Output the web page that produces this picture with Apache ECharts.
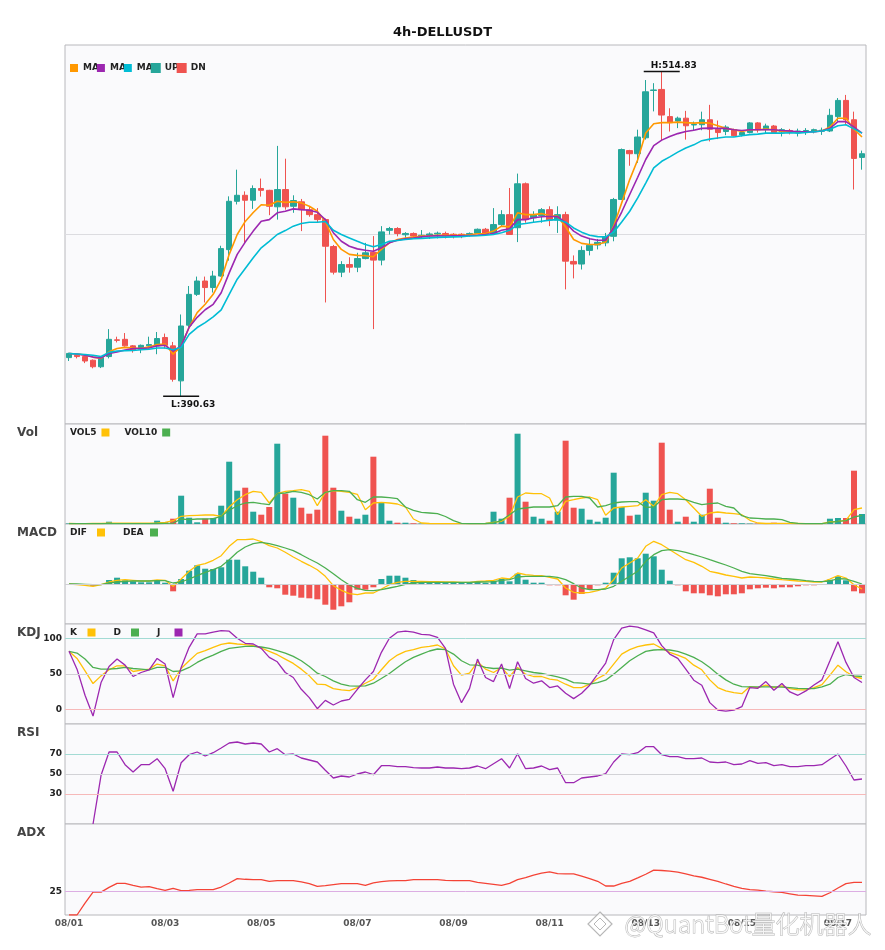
<!DOCTYPE html>
<html>
<head>
<meta charset="utf-8">
<title>4h-DELLUSDT</title>
<script src="https://cdn.jsdelivr.net/npm/echarts/dist/echarts.min.js"></script>
<style>
html, body { margin: 0; padding: 0; background: #fff; }
#app { width: 885px; height: 950px; }
</style>
</head>
<body>
<div id="app"></div>
<script>
var days = ['08/01', '08/02', '08/03', '08/04', '08/05', '08/06', '08/07', '08/08', '08/09',
    '08/10', '08/11', '08/12', '08/13', '08/14', '08/15', '08/16', '08/17'];
var hours = ['00:00', '04:00', '08:00', '12:00', '16:00', '20:00'];

var opens = [
    405.4, 406.3, 405.8, 404.4, 401.9, 405.8, 412.2, 412.4, 409.9, 408.6,
    409.9, 409.9, 413.1, 409.9, 396.5, 417.8, 429.6, 434.7, 432.2, 436.6,
    446.7, 465.2, 467.5, 465.6, 470.1, 469.4, 463.1, 469.7, 463.3, 465.0,
    462.0, 460.1, 458.2, 447.9, 438.1, 441.0, 440.0, 443.3, 445.7, 442.7,
    454.1, 454.8, 452.4, 452.9, 451.9, 452.2, 452.7, 452.9, 452.6, 452.6,
    452.2, 453.0, 454.5, 452.9, 456.3, 460.1, 455.1, 471.9, 458.9, 459.7,
    462.0, 458.0, 460.1, 442.2, 441.2, 446.4, 448.5, 449.3, 451.8, 465.9,
    484.6, 483.4, 489.5, 507.6, 508.0, 497.6, 495.9, 497.0, 494.4, 494.5,
    496.4, 492.8, 491.9, 492.6, 490.6, 491.5, 495.2, 492.8, 494.0, 491.8,
    492.3, 491.5, 492.0, 491.8, 492.0, 492.1, 497.6, 503.8, 496.4, 482.0
];
var closes = [
    407.0, 405.8, 404.1, 401.9, 405.4, 412.4, 412.0, 409.9, 408.3, 410.1,
    410.4, 412.7, 410.1, 397.1, 417.5, 429.6, 434.7, 432.2, 436.6, 447.1,
    465.2, 467.5, 465.6, 470.1, 469.4, 463.3, 469.7, 463.1, 465.5, 462.0,
    460.1, 458.2, 448.0, 438.1, 441.0, 440.0, 443.3, 445.5, 442.7, 453.5,
    454.8, 452.9, 452.9, 451.9, 452.2, 452.7, 453.0, 452.2, 452.1, 452.2,
    452.9, 454.5, 452.9, 456.3, 460.1, 452.5, 471.9, 458.2, 460.1, 462.0,
    458.0, 460.1, 442.3, 441.2, 446.4, 448.4, 449.5, 451.6, 465.9, 485.0,
    483.4, 489.8, 507.1, 507.8, 498.2, 495.3, 497.0, 494.1, 494.6, 496.4,
    492.8, 491.5, 493.6, 490.3, 491.5, 495.2, 492.6, 494.0, 491.5, 492.6,
    491.9, 492.1, 492.3, 492.6, 492.4, 498.1, 503.8, 496.4, 481.6, 483.4
];
var lows = [
    404.1, 405.1, 403.3, 401.3, 401.4, 405.1, 411.2, 409.6, 407.3, 407.1,
    408.9, 406.7, 408.9, 396.2, 390.63, 417.0, 429.0, 426.5, 430.3, 436.4,
    442.5, 464.0, 449.3, 462.3, 467.0, 459.9, 458.2, 462.0, 460.8, 453.8,
    459.3, 457.0, 426.5, 437.2, 436.2, 437.9, 438.1, 443.0, 416.3, 440.7,
    452.5, 451.8, 450.7, 451.1, 451.0, 450.8, 451.0, 451.0, 451.0, 451.1,
    451.7, 452.8, 452.6, 452.3, 455.7, 452.5, 449.6, 457.0, 457.0, 457.0,
    455.7, 453.1, 431.5, 435.7, 439.1, 444.5, 446.8, 448.0, 449.9, 465.7,
    478.8, 479.9, 488.8, 499.6, 488.5, 491.9, 493.2, 488.8, 492.4, 492.4,
    488.1, 489.0, 490.5, 490.0, 490.0, 491.2, 491.5, 491.2, 491.0, 490.0,
    490.8, 490.0, 490.6, 491.2, 490.6, 491.7, 495.9, 494.5, 469.7, 477.3
];
var highs = [
    407.3, 406.6, 406.0, 404.7, 406.0, 416.3, 413.4, 414.8, 410.2, 410.4,
    413.4, 415.2, 414.6, 411.4, 421.9, 432.8, 436.4, 436.4, 438.6, 448.2,
    467.1, 477.3, 469.0, 471.3, 473.9, 469.6, 486.4, 481.5, 467.5, 466.1,
    463.3, 462.6, 458.6, 448.5, 442.3, 443.8, 445.5, 449.3, 451.9, 455.7,
    455.4, 455.3, 453.4, 453.3, 454.2, 453.3, 453.6, 453.6, 453.0, 453.0,
    453.3, 454.8, 455.0, 462.6, 461.8, 470.3, 475.8, 472.4, 461.4, 462.6,
    463.3, 463.3, 461.2, 444.5, 448.0, 451.2, 450.8, 453.1, 466.5, 485.4,
    484.9, 492.6, 511.6, 510.4, 514.83, 500.8, 497.6, 499.8, 495.7, 499.5,
    502.1, 496.1, 494.3, 493.0, 492.1, 495.5, 495.5, 494.9, 494.4, 493.2,
    492.9, 493.0, 493.2, 493.0, 493.4, 500.6, 504.7, 505.9, 499.5, 484.6
];

var ma5 = [
    407.0, 406.8, 406.4, 405.6, 405.1, 407.6, 408.9, 409.3, 409.1, 408.9,
    409.5, 410.4, 410.6, 406.7, 409.8, 417.0, 422.6, 425.8, 429.6, 435.3,
    444.9, 452.5, 457.5, 460.9, 463.9, 463.7, 465.2, 464.8, 465.0, 464.6,
    463.3, 461.4, 457.5, 450.6, 446.8, 444.9, 444.5, 444.4, 444.0, 446.8,
    449.3, 450.6, 451.1, 451.5, 451.9, 452.0, 452.2, 452.2, 452.2, 452.2,
    452.4, 452.8, 452.9, 453.8, 455.7, 455.4, 460.8, 460.1, 460.1, 460.5,
    459.7, 459.5, 455.4, 450.6, 449.1, 448.7, 448.7, 449.6, 455.7, 464.6,
    473.5, 481.1, 491.3, 494.9, 495.3, 495.3, 495.5, 495.3, 495.1, 495.3,
    495.1, 494.1, 493.1, 492.6, 491.9, 492.6, 492.6, 492.8, 492.6, 491.9,
    491.8, 491.7, 491.8, 491.9, 492.1, 493.6, 497.0, 497.0, 492.8, 489.8
];
var ma10 = [
    407.0, 406.8, 406.3, 405.6, 405.3, 407.0, 407.6, 408.3, 408.9, 408.9,
    409.1, 409.9, 410.1, 407.9, 409.9, 417.0, 420.8, 423.7, 425.8, 430.2,
    437.8, 444.9, 449.6, 453.8, 457.6, 458.2, 460.8, 461.4, 462.3, 462.0,
    461.8, 461.0, 458.2, 453.2, 449.9, 448.0, 447.0, 446.5, 446.1, 447.4,
    449.3, 450.3, 450.9, 451.1, 451.6, 451.9, 452.0, 451.9, 452.0, 452.0,
    452.1, 452.2, 452.5, 452.9, 454.1, 454.7, 458.2, 458.2, 458.9, 459.3,
    459.5, 459.3, 457.0, 453.8, 451.9, 450.9, 450.3, 450.3, 455.2, 461.1,
    467.8, 474.4, 481.2, 486.5, 488.6, 490.0, 491.1, 491.9, 492.4, 493.1,
    493.2, 493.1, 493.1, 492.6, 492.3, 492.6, 492.6, 492.6, 492.6, 492.3,
    492.1, 491.8, 491.8, 491.8, 492.1, 493.1, 495.7, 495.7, 493.6, 491.3
];
var ma20 = [
    407.0, 406.8, 406.6, 406.3, 405.8, 407.4, 407.9, 408.0, 408.1, 408.4,
    408.6, 409.1, 409.1, 408.4, 409.4, 414.3, 416.9, 418.8, 421.0, 423.7,
    429.6, 435.4, 439.5, 443.6, 447.4, 449.9, 452.5, 454.0, 455.7, 456.7,
    457.2, 457.2, 457.5, 454.1, 452.5, 451.2, 449.9, 448.7, 447.8, 448.7,
    449.9, 450.2, 450.6, 450.9, 451.0, 451.2, 451.4, 451.5, 451.6, 451.7,
    451.9, 452.0, 452.2, 452.5, 453.2, 454.1, 456.3, 456.7, 457.2, 457.6,
    458.0, 458.2, 457.2, 455.0, 453.4, 452.2, 451.7, 451.6, 453.4, 457.3,
    461.4, 466.5, 472.2, 478.0, 480.5, 482.2, 484.0, 485.6, 486.8, 488.4,
    489.0, 489.4, 489.8, 489.8, 490.3, 490.7, 490.9, 491.3, 491.3, 491.3,
    491.4, 491.3, 491.5, 491.8, 492.1, 492.8, 494.1, 494.5, 492.9, 491.3
];

var vol = [
    0.5, 0.3, 0.5, 0.6, 0.5, 2.3, 0.3, 0.5, 0.4, 0.5,
    1.0, 3.3, 1.7, 5.3, 28.3, 6.3, 1.7, 5.3, 6.0, 18.3,
    62.3, 33.3, 36.3, 12.3, 9.3, 17.0, 80.3, 30.3, 26.3, 16.3,
    10.3, 14.3, 88.3, 36.3, 13.3, 7.3, 5.3, 9.3, 67.3, 21.7,
    3.3, 1.3, 1.3, 0.7, 0.5, 0.4, 0.3, 0.3, 0.3, 0.3,
    0.4, 0.6, 1.0, 12.3, 5.3, 26.3, 90.3, 22.3, 7.3, 5.3,
    3.3, 12.3, 83.3, 16.3, 15.3, 4.3, 2.3, 6.3, 51.3, 17.0,
    8.3, 9.3, 31.3, 23.3, 81.3, 14.3, 2.3, 7.3, 2.3, 9.3,
    35.3, 6.3, 1.3, 0.7, 0.7, 0.4, 0.4, 0.3, 1.3, 0.4,
    0.3, 0.3, 0.3, 0.3, 0.3, 5.3, 6.0, 6.0, 53.3, 10.0
];
var vol5 = [
    0.5, 0.4, 0.4, 0.5, 0.5, 0.8, 0.8, 0.8, 0.8, 0.8,
    0.9, 1.0, 1.7, 3.3, 7.7, 8.3, 8.7, 9.0, 9.0, 7.7,
    17.0, 24.3, 29.3, 32.7, 31.7, 21.0, 30.3, 32.7, 33.3, 34.3,
    32.7, 18.3, 31.7, 33.3, 32.7, 31.7, 29.7, 14.3, 21.0, 21.7,
    21.0, 20.0, 17.0, 5.0, 1.0, 0.5, 0.4, 0.4, 0.3, 0.3,
    0.3, 0.4, 0.5, 1.7, 2.7, 7.7, 27.0, 31.0, 30.3, 30.3,
    26.0, 9.3, 22.7, 24.3, 26.0, 27.0, 24.3, 8.7, 16.0, 17.0,
    17.7, 18.3, 24.3, 17.7, 29.3, 31.7, 30.3, 24.3, 16.0, 7.7,
    11.0, 12.0, 11.0, 10.3, 9.3, 3.7, 1.0, 0.5, 0.7, 0.6,
    0.6, 0.5, 0.4, 0.3, 0.3, 2.0, 2.7, 3.7, 14.3, 16.0
];
var vol10 = [
    0.4, 0.4, 0.4, 0.4, 0.4, 0.4, 0.4, 0.4, 0.4, 0.4,
    0.4, 0.5, 0.6, 0.9, 5.0, 4.3, 5.0, 5.0, 5.3, 7.7,
    13.7, 18.3, 21.0, 21.7, 20.3, 19.3, 30.3, 31.0, 32.7, 31.7,
    29.3, 25.0, 31.7, 33.3, 33.3, 32.7, 24.3, 21.7, 27.0, 27.0,
    26.3, 25.3, 17.0, 13.7, 11.7, 11.0, 10.3, 7.5, 3.3, 0.7,
    0.4, 0.4, 0.5, 1.0, 3.7, 9.3, 15.0, 16.0, 17.0, 17.0,
    17.0, 18.3, 27.0, 27.7, 27.7, 26.0, 17.0, 18.3, 21.0, 22.0,
    22.3, 22.3, 16.7, 17.0, 24.3, 25.0, 25.0, 24.3, 21.7, 19.3,
    20.3, 21.0, 17.7, 16.0, 8.3, 6.0, 5.7, 5.0, 5.0, 4.3,
    1.7, 0.7, 0.4, 0.4, 0.4, 1.7, 2.7, 3.3, 7.0, 8.7
];

var macdHist = [
    0, 0, 0, -0.17, -0.1, 0.4, 0.63, 0.37, 0.27, 0.17,
    0.17, 0.37, 0.13, -0.73, 0.5, 1.33, 1.87, 1.53, 1.5, 1.67,
    2.43, 2.43, 1.77, 1.23, 0.63, -0.33, -0.43, -1.07, -1.17, -1.37,
    -1.43, -1.53, -2.07, -2.57, -2.23, -1.83, -0.57, -0.57, -0.33, 0.5,
    0.83, 0.83, 0.63, 0.4, 0.27, 0.2, 0.2, 0.2, 0.1, 0.1,
    0.1, 0.2, 0.1, 0.3, 0.5, 0.27, 1.03, 0.43, 0.13, 0.13,
    -0.13, -0.13, -1.13, -1.57, -1.0, -0.5, -0.13, 0.13, 1.13, 2.57,
    2.67, 2.57, 3.03, 2.77, 1.43, 0.33, -0.13, -0.73, -0.93, -0.93,
    -1.13, -1.23, -1.03, -1.03, -0.93, -0.53, -0.43, -0.37, -0.43, -0.33,
    -0.33, -0.23, -0.13, -0.13, -0.03, 0.43, 0.77, 0.37, -0.73, -0.93
];
var dif = [
    0, -0.07, -0.13, -0.23, -0.07, 0.2, 0.37, 0.43, 0.37, 0.3,
    0.3, 0.4, 0.37, -0.23, 0.5, 1.27, 1.87, 2.03, 2.37, 2.83,
    3.77, 4.43, 4.43, 4.5, 4.23, 3.83, 3.6, 3.17, 2.7, 2.27,
    1.87, 1.43, 0.77, -0.17, -0.63, -0.97, -1.07, -0.9, -0.9, -0.5,
    -0.07, 0.17, 0.27, 0.27, 0.27, 0.23, 0.23, 0.2, 0.2, 0.17,
    0.17, 0.27, 0.3, 0.37, 0.6, 0.5, 1.1, 0.93, 0.87, 0.83,
    0.67, 0.5, -0.4, -0.83, -0.9, -0.83, -0.67, -0.4, 0.43, 1.6,
    2.1, 2.6, 3.77, 4.27, 3.93, 3.43, 2.93, 2.43, 2.17, 1.77,
    1.27, 1.1, 0.9, 0.77, 0.6, 0.7, 0.67, 0.6, 0.5, 0.43,
    0.37, 0.3, 0.27, 0.2, 0.2, 0.5, 0.83, 0.6, -0.07, -0.5
];
var dea = [
    0, 0, -0.03, -0.07, -0.07, 0.1, 0.2, 0.27, 0.3, 0.3,
    0.3, 0.33, 0.33, 0.1, 0.2, 0.5, 0.83, 1.17, 1.43, 1.77,
    2.43, 3.17, 3.7, 4.03, 4.17, 4.03, 3.83, 3.6, 3.33, 2.93,
    2.5, 2.1, 1.6, 1.03, 0.43, -0.1, -0.43, -0.63, -0.67, -0.57,
    -0.4, -0.23, -0.03, 0.1, 0.17, 0.17, 0.17, 0.17, 0.17, 0.17,
    0.17, 0.2, 0.2, 0.23, 0.37, 0.43, 0.7, 0.77, 0.77, 0.77,
    0.77, 0.67, 0.43, 0.03, -0.4, -0.57, -0.57, -0.5, -0.23, 0.27,
    0.77, 1.27, 2.27, 2.93, 3.33, 3.43, 3.33, 3.17, 2.93, 2.7,
    2.43, 2.17, 1.9, 1.6, 1.27, 1.03, 0.93, 0.83, 0.7, 0.57,
    0.5, 0.43, 0.33, 0.27, 0.23, 0.3, 0.53, 0.5, 0.27, 0
];

var kLine = [
    81.7, 71.8, 54.5, 36.6, 47.4, 55.9, 61.5, 61.5, 53.5, 55.4,
    56.8, 63.9, 61.5, 40.4, 57.7, 68.5, 78.9, 82.6, 87.3, 91.6,
    93.4, 92.0, 91.1, 89.7, 86.4, 81.7, 77.0, 70.9, 64.8, 56.8,
    47.4, 35.7, 35.2, 29.6, 27.7, 26.8, 31.0, 37.1, 42.7, 55.9,
    68.5, 76.5, 81.7, 84.1, 87.3, 88.7, 90.6, 85.0, 61.5, 48.4,
    51.2, 67.1, 56.8, 52.1, 59.2, 46.5, 59.2, 49.8, 46.5, 46.5,
    42.7, 41.3, 35.7, 31.0, 31.0, 35.7, 43.7, 49.8, 63.9, 77.9,
    84.1, 88.3, 90.6, 92.0, 85.9, 80.3, 76.5, 71.8, 62.4, 55.9,
    41.8, 31.0, 26.3, 23.9, 22.5, 32.4, 31.0, 34.3, 31.0, 33.3,
    29.6, 27.7, 27.7, 31.0, 35.2, 48.4, 62.4, 53.1, 46.5, 43.7
];
var dLine = [
    81.7, 79.3, 70.9, 59.2, 56.8, 56.8, 57.7, 59.2, 57.7, 56.8,
    55.9, 59.2, 59.2, 53.5, 54.5, 59.2, 66.2, 71.8, 76.5, 81.7,
    85.9, 87.3, 88.7, 88.7, 87.8, 85.9, 82.6, 79.3, 74.6, 68.5,
    60.6, 51.2, 46.5, 40.4, 35.7, 33.3, 32.9, 33.3, 37.1, 43.7,
    50.7, 59.2, 67.1, 73.2, 77.9, 82.2, 85.0, 84.0, 77.9, 68.5,
    62.9, 62.4, 59.2, 57.7, 58.2, 55.4, 56.8, 54.5, 52.1, 50.7,
    48.4, 46.0, 42.7, 38.0, 37.1, 35.7, 38.0, 41.3, 49.8, 59.2,
    68.5, 75.6, 81.7, 83.6, 84.0, 83.6, 81.7, 77.9, 73.2, 67.1,
    59.2, 49.8, 41.8, 35.7, 32.4, 31.9, 31.9, 31.9, 31.9, 31.5,
    31.0, 30.0, 29.6, 29.6, 31.9, 35.7, 45.1, 49.3, 47.4, 46.5
];
var jLine = [
    81.7, 56.8, 20.2, -8.9, 38.0, 60.6, 70.9, 62.4, 46.5, 52.1,
    55.9, 71.8, 63.9, 16.9, 59.2, 87.3, 106.1, 106.1, 108.5, 110.8,
    109.9, 100.0, 93.0, 92.0, 85.9, 73.2, 67.1, 52.1, 45.1, 28.6,
    16.9, 1.4, 13.1, 6.6, 12.2, 14.6, 28.6, 41.8, 53.5, 80.3,
    100.0, 108.5, 109.9, 108.5, 105.6, 104.7, 101.4, 85.9, 35.7, 9.9,
    29.6, 70.9, 45.1, 39.4, 63.9, 29.6, 67.1, 43.7, 37.1, 40.4,
    31.0, 33.3, 23.0, 15.5, 23.0, 34.3, 49.8, 65.3, 98.1, 114.1,
    116.9, 115.5, 111.7, 107.5, 89.7, 77.9, 71.8, 56.8, 41.3, 34.3,
    9.9, -0.5, -1.9, -0.5, 4.2, 31.0, 30.0, 39.4, 27.2, 36.6,
    24.9, 20.2, 26.3, 34.7, 41.8, 68.5, 95.3, 66.2, 45.1, 38.0
];

var rsi = [
    null, null, null, 0, 48.7, 72, 72, 59.3, 52, 59.3,
    59.3, 65.3, 55.3, 32.7, 61.3, 69.3, 72, 68, 71.3, 76,
    81, 82, 80, 81, 80, 72, 75.3, 69.3, 70, 66,
    64, 62, 53.7, 46, 48, 47, 50, 52, 49.3, 58.3,
    58.3, 57.3, 57.3, 56.3, 56, 56, 57, 56, 56, 55.3,
    56, 58, 55.3, 60.3, 65.3, 56, 70.3, 55.3, 56, 58,
    54.3, 56, 41.3, 41.3, 46, 47, 48, 50.3, 62, 70,
    69.3, 71.3, 77.3, 77.3, 69.3, 67.3, 67.3, 65.3, 65.3, 66,
    62, 61.3, 62, 59.3, 60, 63.3, 60.7, 61.3, 58.3, 59.3,
    57.3, 57.3, 58.3, 58.3, 59.3, 64.7, 70, 58, 44, 45
];
var adx = [
    18, 18, 21.5, 24.8, 24.8, 26.2, 27.4, 27.4, 26.8, 26.3,
    26.4, 25.8, 25.3, 25.9, 25.2, 25.3, 25.5, 25.5, 25.5, 26.3,
    27.5, 28.8, 28.6, 28.5, 28.5, 28.0, 28.2, 28.2, 28.2, 27.8,
    27.3, 26.5, 26.7, 27.0, 27.3, 27.3, 27.3, 26.8, 27.5, 27.9,
    28.1, 28.2, 28.2, 28.5, 28.5, 28.5, 28.5, 28.3, 28.2, 28.2,
    28.2, 27.7, 27.4, 27.1, 26.8, 27.4, 28.5, 29.1, 29.8, 30.4,
    30.8, 30.3, 30.2, 30.2, 29.5, 28.8, 28.0, 26.6, 26.6, 27.4,
    28.0, 29.0, 30.1, 31.3, 31.2, 31.0, 30.7, 30.2, 29.6, 29.2,
    28.6, 28.0, 27.2, 26.5, 25.9, 25.5, 25.4, 25.1, 24.9, 24.7,
    24.3, 23.9, 23.8, 23.7, 23.5, 24.6, 26.0, 27.3, 27.7, 27.7
];

var kdjLevels = [100, 50, 0];
var rsiLevels = [70, 50, 30];
var adxLevels = [25];

var UP = '#26a69a', DN = '#ef5350';
var FONT = 'DejaVu Sans';

window.onload = function () {
    var myChart = echarts.init(document.getElementById('app'));

    var times = [];
    for (var d = 0; d < days.length; d++) {
        for (var h = 0; h < hours.length; h++) times.push(days[d] + ' ' + hours[h]);
    }
    times = times.slice(0, opens.length);

    var upData = [], dnData = [], volData = [];
    for (var i = 0; i < opens.length; i++) {
        var row = [opens[i], closes[i], lows[i], highs[i]];
        var rising = closes[i] >= opens[i];
        upData.push(rising ? row : ['-', '-', '-', '-']);
        dnData.push(rising ? ['-', '-', '-', '-'] : row);
        volData.push({ value: vol[i], itemStyle: { color: rising ? UP : DN } });
    }

    function refLines(levels, colors) {
        return {
            silent: true,
            symbol: ['none', 'none'],
            label: { show: false },
            animation: false,
            data: levels.map(function (v, k) {
                return { yAxis: v, lineStyle: { color: colors[k], width: 1, type: 'solid' } };
            })
        };
    }
    function onlyLevels(levels) {
        return function (v) { return levels.indexOf(v) >= 0 ? String(v) : ''; };
    }
    function line(name, data, color, xi, extra) {
        var s = {
            name: name, type: 'line', data: data, xAxisIndex: xi, yAxisIndex: xi,
            color: color, showSymbol: false, symbol: 'none',
            lineStyle: { color: color, width: 1.3 }, animation: false
        };
        if (extra) for (var key in extra) s[key] = extra[key];
        return s;
    }

    var legendText = { fontSize: 9, fontWeight: 'bold', color: '#222', fontFamily: FONT };
    var markLabel = { show: true, fontSize: 9, fontWeight: 'bold', color: '#111', fontFamily: FONT, offset: [12, 0] };

    var gridTops = [45, 424, 524, 624, 724, 824];
    var gridHeights = [379, 100, 100, 100, 100, 91];
    var grids = [], xAxes = [];
    for (var g = 0; g < gridTops.length; g++) {
        grids.push({
            left: 65, right: 19, top: gridTops[g], height: gridHeights[g],
            show: true, backgroundColor: '#fafafc', borderColor: '#b8b8bc', borderWidth: 1,
            containLabel: false, outerBoundsMode: 'none'
        });
        xAxes.push({
            type: 'category', gridIndex: g, data: times, boundaryGap: true,
            axisLine: { show: false }, axisTick: { show: false }, splitLine: { show: false },
            axisLabel: {
                show: g === gridTops.length - 1, interval: 11, margin: 4,
                fontSize: 9, fontWeight: 'bold', color: '#555', fontFamily: FONT,
                formatter: function (v) { return v.slice(0, 5); }
            }
        });
    }

    var axisLabelStyle = { fontSize: 9, fontWeight: 'bold', color: '#222', fontFamily: FONT, margin: 3 };
    function hiddenY(g, min, max) {
        return {
            type: 'value', gridIndex: g, min: min, max: max,
            axisLine: { show: false }, axisTick: { show: false },
            axisLabel: { show: false }, splitLine: { show: false }
        };
    }
    // ticks run from min in steps of interval, so min is a multiple of it
    function levelY(g, min, max, interval, levels) {
        return {
            type: 'value', gridIndex: g, min: min, max: max, interval: interval,
            axisLine: { show: false }, axisTick: { show: false }, splitLine: { show: false },
            axisLabel: Object.assign({ formatter: onlyLevels(levels) }, axisLabelStyle)
        };
    }

    var mainY = hiddenY(0, 380, 525);
    mainY.interval = 72.5;
    mainY.splitLine = { show: true, showMinLine: false, showMaxLine: false, lineStyle: { color: '#dcdce0', width: 1 } };

    var wmStyle = { fill: 'rgba(255,255,255,0.85)', stroke: 'rgba(165,165,165,0.8)', lineWidth: 1 };

    var option = {
        animation: false,
        textStyle: { fontFamily: FONT },
        title: [
            { text: '4h-DELLUSDT', left: 'center', top: 26, padding: 0,
              textStyle: { fontSize: 13, fontWeight: 'bold', color: '#111', fontFamily: FONT } },
            { text: 'Vol', left: 17, top: 427, padding: 0, textStyle: { fontSize: 12, fontWeight: 'bold', color: '#444', fontFamily: FONT } },
            { text: 'MACD', left: 17, top: 527, padding: 0, textStyle: { fontSize: 12, fontWeight: 'bold', color: '#444', fontFamily: FONT } },
            { text: 'KDJ', left: 17, top: 627, padding: 0, textStyle: { fontSize: 12, fontWeight: 'bold', color: '#444', fontFamily: FONT } },
            { text: 'RSI', left: 17, top: 727, padding: 0, textStyle: { fontSize: 12, fontWeight: 'bold', color: '#444', fontFamily: FONT } },
            { text: 'ADX', left: 17, top: 827, padding: 0, textStyle: { fontSize: 12, fontWeight: 'bold', color: '#444', fontFamily: FONT } }
        ],
        legend: [
            {
                data: ['MA5', 'MA10', 'MA20', 'UP', 'DN'], left: 70, top: 63, padding: 0,
                itemGap: -2, itemWidth: 8, itemHeight: 8, icon: 'rect', selectedMode: false,
                formatter: function (n) { return n.indexOf('MA') === 0 ? 'MA' : n; },
                textStyle: legendText
            },
            {
                data: ['VOL5', 'VOL10'], left: 70, top: 428, padding: 0, align: 'right',
                itemGap: 15, itemWidth: 8, itemHeight: 8, icon: 'rect', selectedMode: false,
                textStyle: legendText
            },
            {
                data: ['DIF', 'DEA'], left: 70, top: 528, padding: 0, align: 'right',
                itemGap: 18, itemWidth: 8, itemHeight: 8, icon: 'rect', selectedMode: false,
                formatter: '{t|{name}}',
                textStyle: Object.assign({ rich: { t: Object.assign({ width: 22, align: 'left' }, legendText) } }, legendText)
            },
            {
                data: ['K', 'D', 'J'], left: 70, top: 628, padding: 0, align: 'right',
                itemGap: 18, itemWidth: 8, itemHeight: 8, icon: 'rect', selectedMode: false,
                formatter: '{t|{name}}',
                textStyle: Object.assign({ rich: { t: Object.assign({ width: 12.5, align: 'left' }, legendText) } }, legendText)
            }
        ],
        grid: grids,
        xAxis: xAxes,
        yAxis: [
            mainY,
            hiddenY(1, 0, 100),
            hiddenY(2, -4, 6),
            levelY(3, -20, 120, 10, kdjLevels),
            levelY(4, 0, 100, 10, rsiLevels),
            levelY(5, 18, 45, 1, adxLevels)
        ],
        graphic: [
            // watermark: logo diamond plus text
            { type: 'polygon', z: 100, silent: true, shape: { points: [[600, 912], [612, 924], [600, 936], [588, 924]] },
              style: { fill: 'rgba(255,255,255,0.85)', stroke: 'rgba(165,165,165,0.8)', lineWidth: 1.2 } },
            { type: 'polygon', z: 101, silent: true, shape: { points: [[600, 918], [606, 924], [600, 930], [594, 924]] },
              style: { fill: 'rgba(255,255,255,0.9)', stroke: 'rgba(165,165,165,0.8)', lineWidth: 1 } },
            {
                type: 'text', left: 624, top: 911, z: 100, silent: true,
                style: Object.assign({
                    text: '@QuantBot量化机器人',
                    font: '300 24px "Noto Sans CJK SC", "DejaVu Sans"'
                }, wmStyle)
            }
        ],
        series: [
            {
                name: 'UP', type: 'candlestick', data: upData, xAxisIndex: 0, yAxisIndex: 0,
                barWidth: 6,
                itemStyle: { color: UP, color0: UP, borderColor: UP, borderColor0: UP, borderWidth: 1 },
                markPoint: {
                    symbol: 'rect', symbolSize: [36, 1.5], animation: false,
                    itemStyle: { color: '#111' },
                    label: Object.assign({ position: 'bottom', distance: 3,
                        formatter: function (p) { return 'L:' + p.value; } }, markLabel),
                    data: [{ name: 'low', type: 'min', valueDim: 'lowest' }]
                }
            },
            {
                name: 'DN', type: 'candlestick', data: dnData, xAxisIndex: 0, yAxisIndex: 0,
                barWidth: 6,
                itemStyle: { color: DN, color0: DN, borderColor: DN, borderColor0: DN, borderWidth: 1 },
                markPoint: {
                    symbol: 'rect', symbolSize: [36, 1.5], animation: false,
                    itemStyle: { color: '#111' },
                    label: Object.assign({ position: 'top', distance: 1,
                        formatter: function (p) { return 'H:' + p.value; } }, markLabel),
                    data: [{ name: 'high', type: 'max', valueDim: 'highest' }]
                }
            },
            line('MA5', ma5, '#ff9800', 0, { lineStyle: { color: '#ff9800', width: 1.6 } }),
            line('MA10', ma10, '#9c27b0', 0, { lineStyle: { color: '#9c27b0', width: 1.6 } }),
            line('MA20', ma20, '#00bcd4', 0, { lineStyle: { color: '#00bcd4', width: 1.6 } }),

            { name: 'Vol', type: 'bar', data: volData, xAxisIndex: 1, yAxisIndex: 1, barWidth: 6, animation: false },
            line('VOL5', vol5, '#ffc107', 1),
            line('VOL10', vol10, '#4caf50', 1),

            {
                name: 'MACD', type: 'bar', data: macdHist, xAxisIndex: 2, yAxisIndex: 2, barWidth: 6, animation: false,
                itemStyle: { color: function (p) { return p.value >= 0 ? UP : DN; } },
                markLine: refLines([0], ['#cfcfd3'])
            },
            line('DIF', dif, '#ffc107', 2),
            line('DEA', dea, '#4caf50', 2),

            line('K', kLine, '#ffc107', 3, { markLine: refLines(kdjLevels, ['#a3dbd4', '#d2d2d6', '#f6b9b9']) }),
            line('D', dLine, '#4caf50', 3),
            line('J', jLine, '#9c27b0', 3),

            line('RSI', rsi, '#9c27b0', 4, { markLine: refLines(rsiLevels, ['#a3dbd4', '#d2d2d6', '#f6b9b9']) }),

            line('ADX', adx, '#f44336', 5, { markLine: refLines(adxLevels, ['#dcaee3']) })
        ]
    };
    myChart.setOption(option);
};
</script>
</body>
</html>
